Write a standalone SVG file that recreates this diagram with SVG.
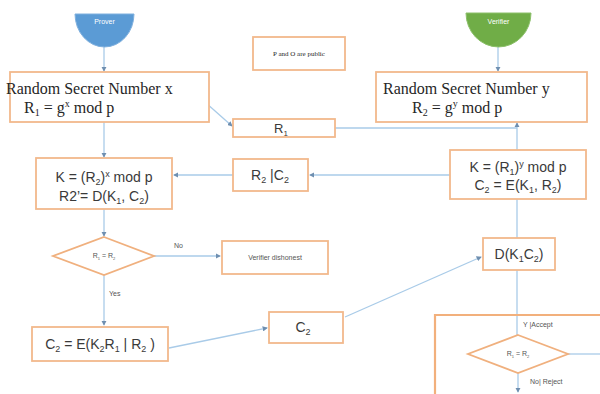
<svg xmlns="http://www.w3.org/2000/svg" width="600" height="394" viewBox="0 0 600 394">
<defs>
<style>
.box{fill:#fff;stroke:#f2b98c;stroke-width:1.8}
.dia{fill:#fff;stroke:#f0b07e;stroke-width:1.8}
.big{fill:none;stroke:#f2b07c;stroke-width:2.2}
.ln{fill:none;stroke:#a9cbe8;stroke-width:1.3}
.serif{font-family:"Liberation Serif","Times New Roman",serif;fill:#262626}
.sans{font-family:"Liberation Sans",Arial,sans-serif;fill:#3a3a3a}
.small{font-family:"Liberation Sans",Arial,sans-serif;fill:#555;font-size:7px}
.cap{font-family:"Liberation Sans",Arial,sans-serif;fill:#fff;font-size:7px}
</style>
<marker id="ar" viewBox="0 0 6 6" refX="5" refY="3" markerWidth="4" markerHeight="4" orient="auto">
<path d="M0,0 L6,3 L0,6 Z" fill="#6f8fb0"/>
</marker>
</defs>
<rect width="600" height="394" fill="#fff"/>

<g id="connectors">
<line class="ln" x1="104" y1="47" x2="104" y2="71" marker-end="url(#ar)"/>
<line class="ln" x1="498" y1="47" x2="498" y2="71" marker-end="url(#ar)"/>
<line class="ln" x1="104" y1="122" x2="104" y2="157" marker-end="url(#ar)"/>
<line class="ln" x1="206" y1="103" x2="232" y2="126" marker-end="url(#ar)"/>
<polyline class="ln" points="335,128 517,128"/>
<line class="ln" x1="517" y1="150" x2="517" y2="123" marker-end="url(#ar)"/>
<line class="ln" x1="450" y1="175" x2="310" y2="175" marker-end="url(#ar)"/>
<line class="ln" x1="233" y1="175" x2="174" y2="175" marker-end="url(#ar)"/>
<line class="ln" x1="104" y1="209" x2="104" y2="236" marker-end="url(#ar)"/>
<line class="ln" x1="154" y1="256" x2="220" y2="256" marker-end="url(#ar)"/>
<line class="ln" x1="104" y1="275" x2="104" y2="325" marker-end="url(#ar)"/>
<line class="ln" x1="169" y1="348" x2="267" y2="328" marker-end="url(#ar)"/>
<line class="ln" x1="345" y1="317" x2="481" y2="257" marker-end="url(#ar)"/>
<line class="ln" x1="517" y1="199" x2="517" y2="238"/>
<line class="ln" x1="517" y1="270" x2="517" y2="335"/>
<line class="ln" x1="568" y1="354" x2="600" y2="354"/>
<line class="ln" x1="518" y1="373" x2="518" y2="392" marker-end="url(#ar)"/>
</g>

<g id="prover">
<path d="M75,14 H134 A29.5,33 0 0 1 75,14 Z" fill="#5b9bd5" stroke="#7fb0de" stroke-width="1"/>
<text class="cap" x="104.5" y="24" text-anchor="middle">Prover</text>
</g>
<g id="verifier">
<path d="M466,13 H531 A32.5,34 0 0 1 466,13 Z" fill="#70ad47" stroke="#8cc06a" stroke-width="1"/>
<text class="cap" x="498.5" y="24" text-anchor="middle">Verifier</text>
</g>

<g id="public">
<rect class="box" x="253" y="37" width="92" height="33"/>
<text class="serif" x="299" y="56" font-size="7" text-anchor="middle">P and O are public</text>
</g>

<g id="rsnx">
<rect class="box" x="10" y="72" width="199" height="50"/>
<text class="serif" x="6" y="94" font-size="16">Random Secret Number x</text>
<text class="serif" x="24" y="113" font-size="16">R<tspan font-size="10" dy="3">1</tspan><tspan dy="-3"> = g</tspan><tspan font-size="10" dy="-6">x</tspan><tspan dy="6"> mod p</tspan></text>
</g>

<g id="rsny">
<rect class="box" x="376" y="72" width="211" height="50"/>
<text class="serif" x="383" y="94" font-size="16">Random Secret Number y</text>
<text class="serif" x="412" y="113" font-size="16">R<tspan font-size="10" dy="3">2</tspan><tspan dy="-3"> = g</tspan><tspan font-size="10" dy="-6">y</tspan><tspan dy="6"> mod p</tspan></text>
</g>

<g id="r1">
<rect class="box" x="233" y="119" width="102" height="18"/>
<text class="sans" x="281" y="133" font-size="13" text-anchor="middle">R<tspan font-size="8" dy="3">1</tspan></text>
</g>

<g id="kleft">
<rect class="box" x="36" y="158" width="136" height="51"/>
<text class="sans" x="104" y="182" font-size="14" text-anchor="middle">K = (R<tspan font-size="9" dy="3">2</tspan><tspan dy="-3">)</tspan><tspan font-size="9" dy="-5">x</tspan><tspan dy="5"> mod p</tspan></text>
<text class="sans" x="104" y="201" font-size="14" text-anchor="middle">R2’= D(K<tspan font-size="9" dy="3">1</tspan><tspan dy="-3">, C</tspan><tspan font-size="9" dy="3">2</tspan><tspan dy="-3">)</tspan></text>
</g>

<g id="r2c2">
<rect class="box" x="233" y="159" width="75" height="32"/>
<text class="sans" x="270" y="180" font-size="14" text-anchor="middle">R<tspan font-size="9" dy="3">2</tspan><tspan dy="-3"> |C</tspan><tspan font-size="9" dy="3">2</tspan></text>
</g>

<g id="kright">
<rect class="box" x="450" y="150" width="136" height="49"/>
<text class="sans" x="518" y="172" font-size="14" text-anchor="middle">K = (R<tspan font-size="9" dy="3">1</tspan><tspan dy="-3">)</tspan><tspan font-size="9" dy="-5">y</tspan><tspan dy="5"> mod p</tspan></text>
<text class="sans" x="518" y="190" font-size="14" text-anchor="middle">C<tspan font-size="9" dy="3">2</tspan><tspan dy="-3"> = E(K</tspan><tspan font-size="9" dy="3">1</tspan><tspan dy="-3">, R</tspan><tspan font-size="9" dy="3">2</tspan><tspan dy="-3">)</tspan></text>
</g>

<g id="check1">
<polygon class="dia" points="104,237 154,256 104,275 53,256"/>
<text class="small" x="104" y="258" font-size="6" text-anchor="middle">R<tspan font-size="4" dy="1.5">1</tspan><tspan dy="-1.5"> = R</tspan><tspan font-size="4" dy="1.5">2</tspan></text>
<text class="small" x="174" y="248" font-size="8">No</text>
<text class="small" x="109" y="296" font-size="8">Yes</text>
</g>

<g id="dishonest">
<rect class="box" x="222" y="241" width="106" height="33"/>
<text class="small" x="275" y="260" font-size="8" text-anchor="middle">Verifier dishonest</text>
</g>

<g id="encrypt">
<rect class="box" x="32" y="327" width="136" height="34"/>
<text class="sans" x="100" y="349" font-size="14" text-anchor="middle">C<tspan font-size="9" dy="3">2</tspan><tspan dy="-3"> = E(K</tspan><tspan font-size="9" dy="3">2</tspan><tspan dy="-3">R</tspan><tspan font-size="9" dy="3">1</tspan><tspan dy="-3"> | R</tspan><tspan font-size="9" dy="3">2</tspan><tspan dy="-3"> )</tspan></text>
</g>

<g id="c2">
<rect class="box" x="269" y="312" width="74" height="31"/>
<text class="sans" x="303" y="332" font-size="14" text-anchor="middle">C<tspan font-size="9" dy="3">2</tspan></text>
</g>

<g id="decrypt">
<rect class="box" x="483" y="238" width="72" height="32"/>
<text class="sans" x="519" y="259" font-size="14" text-anchor="middle">D(K<tspan font-size="9" dy="3">1</tspan><tspan dy="-3">C</tspan><tspan font-size="9" dy="3">2</tspan><tspan dy="-3">)</tspan></text>
</g>

<g id="verify">
<path class="big" d="M435,400 V315 H605"/>
<polygon class="dia" points="518,335 568,354 518,373 468,354"/>
<text class="small" x="518" y="356" font-size="6" text-anchor="middle">R<tspan font-size="4" dy="1.5">1</tspan><tspan dy="-1.5"> = R</tspan><tspan font-size="4" dy="1.5">2</tspan></text>
<text class="small" x="523" y="327" font-size="8">Y |Accept</text>
<text class="small" x="530" y="384" font-size="8">No| Reject</text>
</g>
</svg>
